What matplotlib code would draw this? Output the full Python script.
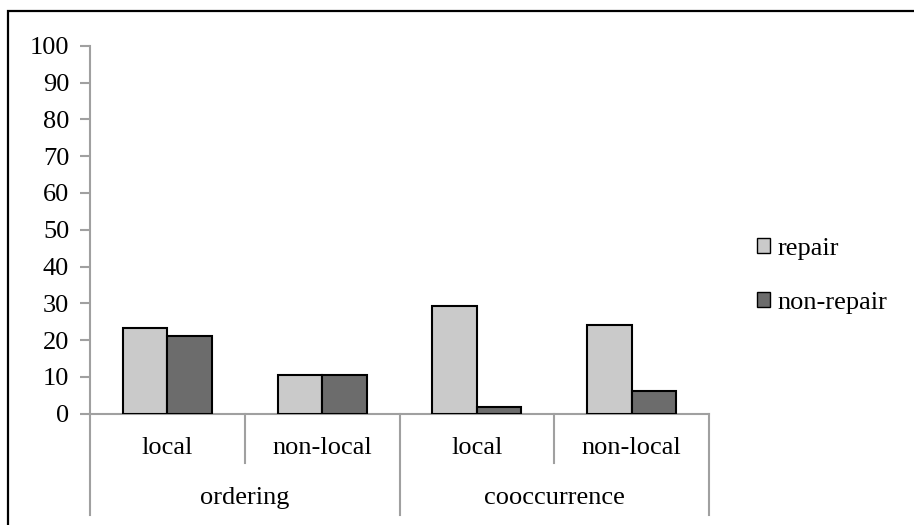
import matplotlib
matplotlib.use("Agg")
import matplotlib.pyplot as plt
from matplotlib.patches import Patch, Rectangle

groups = ["ordering", "cooccurrence"]
subgroups = ["local", "non-local", "local", "non-local"]
repair = [23.3, 10.4, 29.4, 24.2]
non_repair = [21.2, 10.6, 1.7, 6.2]
series_names = ["repair", "non-repair"]

LIGHT = "#cacaca"
DARK = "#6c6c6c"
AXIS = "#a0a0a0"

plt.rcParams["font.family"] = ["Liberation Serif", "DejaVu Serif"]
plt.rcParams["font.size"] = 19

fig = plt.figure(figsize=(9.14, 5.25), dpi=100)
W, H = 914, 525
ax = fig.add_axes([90 / W, 1 - 413.7 / H, (709 - 90) / W, (413.7 - 45.7) / H])

# outer chart frame (runs off the right and bottom edges)
fig.patches.append(Rectangle((8 / W, -0.1), 1.2, 1 - 11 / H + 0.1,
                             transform=fig.transFigure, fill=False,
                             edgecolor="black", linewidth=1.6))

w = 0.287
x = [i + 0.5 for i in range(len(subgroups))]
ax.bar([p - w / 2 for p in x], repair, w, color=LIGHT, edgecolor="black", linewidth=1.5, zorder=3)
ax.bar([p + w / 2 for p in x], non_repair, w, color=DARK, edgecolor="black", linewidth=1.5, zorder=3)

ax.set_xlim(0, 4)
ax.set_ylim(0, 100)
ax.set_yticks(range(0, 101, 10))
ax.set_xticks([])
for s in ["top", "right"]:
    ax.spines[s].set_visible(False)
for s in ["left", "bottom"]:
    ax.spines[s].set_color(AXIS)
    ax.spines[s].set_linewidth(1.5)
ax.tick_params(axis="y", length=7, width=1.5, color=AXIS, pad=8)

# two-level category axis
px = 100 / 368.0
for xb, depth in [(0, 101), (1, 49), (2, 101), (3, 49), (4, 101)]:
    ax.plot([xb, xb], [0, -depth * px], color=AXIS, lw=1.5, clip_on=False)
for p, lab in zip(x, subgroups):
    ax.text(p, -34 * px, lab, ha="center", va="center")
for i, g in enumerate(groups):
    ax.text(2 * i + 1, -84 * px, g, ha="center", va="center")

handles = [Patch(facecolor=LIGHT, edgecolor="black", linewidth=1.0),
           Patch(facecolor=DARK, edgecolor="black", linewidth=1.0)]
fig.legend(handles, series_names, loc="center left", bbox_to_anchor=(733 / W, 1 - 276 / H),
           frameon=False, handlelength=0.5, handleheight=0.5, handletextpad=0.3,
           labelspacing=1.2)

fig.savefig("out.png", dpi=100)
